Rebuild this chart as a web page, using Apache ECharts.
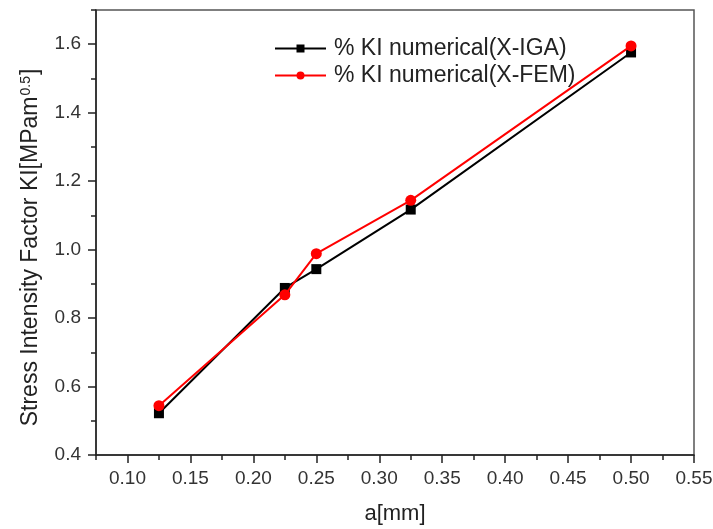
<!DOCTYPE html>
<html>
<head>
<meta charset="utf-8">
<script src="https://cdn.jsdelivr.net/npm/echarts@6/dist/echarts.min.js"></script>
<style>
  html, body { margin: 0; padding: 0; background: #fff; }
  #chart { width: 713px; height: 529px; }
</style>
</head>
<body>
<div id="chart"></div>
<script>
// Crack length a (mm)
const crackLength = [0.125, 0.225, 0.25, 0.325, 0.5];
// Stress intensity factor KI from the two methods
const kiXIGA = [0.522, 0.888, 0.943, 1.117, 1.576];
const kiXFEM = [0.544, 0.868, 0.988, 1.144, 1.595];

const seriesNames = ['% KI numerical(X-IGA)', '% KI numerical(X-FEM)'];

// Tick positions
const xMajorTicks = [0.10, 0.15, 0.20, 0.25, 0.30, 0.35, 0.40, 0.45, 0.50, 0.55];
const xMinorTicks = [0.075, 0.125, 0.175, 0.225, 0.275, 0.325, 0.375, 0.425, 0.475, 0.525];
const yMajorTicks = [0.4, 0.6, 0.8, 1.0, 1.2, 1.4, 1.6];
const yMinorTicks = [0.5, 0.7, 0.9, 1.1, 1.3, 1.5, 1.7];

const FONT = 'Liberation Sans, Arial, sans-serif';
const AXIS_COLOR = '#222';

const pairs = (xs, ys) => xs.map((x, i) => [x, ys[i]]);

const chart = echarts.init(document.getElementById('chart'), null, { renderer: 'canvas' });

chart.setOption({
  animation: false,
  backgroundColor: '#fff',
  textStyle: { fontFamily: FONT },
  grid: {
    left: 96, right: 19, top: 10, bottom: 74,
    outerBoundsMode: 'none',
    containLabel: false,
    show: true,
    borderColor: '#555',
    borderWidth: 1.5,
    backgroundColor: 'transparent'
  },
  legend: {
    orient: 'vertical',
    left: 274,
    top: 37,
    padding: 0,
    itemWidth: 51,
    itemHeight: 10,
    itemGap: 4,
    data: seriesNames,
    textStyle: { fontSize: 23, color: '#222', fontFamily: FONT, padding: [0, 0, 0, 3] }
  },
  xAxis: [
    {
      type: 'value',
      min: 0.075, max: 0.55,
      position: 'bottom',
      name: 'a[mm]',
      nameLocation: 'middle',
      nameGap: 48,
      nameTextStyle: { fontSize: 22, color: '#222', fontFamily: FONT },
      axisLine: { show: true, lineStyle: { color: AXIS_COLOR, width: 1.5 } },
      axisTick: { show: true, inside: false, length: 8, customValues: xMajorTicks,
                  lineStyle: { color: AXIS_COLOR, width: 1.5 } },
      axisLabel: { customValues: xMajorTicks, margin: 14, fontSize: 19, color: '#333',
                   fontFamily: FONT, formatter: v => v.toFixed(2) },
      splitLine: { show: false }
    },
    {
      type: 'value',
      min: 0.075, max: 0.55,
      position: 'bottom',
      axisLine: { show: false },
      axisTick: { show: true, inside: false, length: 5, customValues: xMinorTicks,
                  lineStyle: { color: AXIS_COLOR, width: 1.5 } },
      axisLabel: { show: false },
      splitLine: { show: false }
    }
  ],
  yAxis: [
    {
      type: 'value',
      min: 0.4, max: 1.7,
      position: 'left',
      name: 'Stress Intensity Factor KI[MPam{sup|0.5}]',
      nameLocation: 'middle',
      nameGap: 54,
      nameTextStyle: {
        fontSize: 23, color: '#222', fontFamily: FONT,
        padding: [0, 30, 0, 0],
        rich: {
          sup: { fontSize: 14, color: '#222', fontFamily: FONT, verticalAlign: 'top', padding: [0, 1, 0, 1] }
        }
      },
      axisLine: { show: true, lineStyle: { color: AXIS_COLOR, width: 1.5 } },
      axisTick: { show: true, inside: false, length: 8, customValues: yMajorTicks,
                  lineStyle: { color: AXIS_COLOR, width: 1.5 } },
      axisLabel: { customValues: yMajorTicks, margin: 15, fontSize: 19, color: '#333',
                   fontFamily: FONT, formatter: v => v.toFixed(1) },
      splitLine: { show: false }
    },
    {
      type: 'value',
      min: 0.4, max: 1.7,
      position: 'left',
      axisLine: { show: false },
      axisTick: { show: true, inside: false, length: 5, customValues: yMinorTicks,
                  lineStyle: { color: AXIS_COLOR, width: 1.5 } },
      axisLabel: { show: false },
      splitLine: { show: false }
    }
  ],
  series: [
    {
      name: seriesNames[0],
      type: 'line',
      xAxisIndex: 0, yAxisIndex: 0,
      data: pairs(crackLength, kiXIGA),
      symbol: 'rect',
      symbolSize: 10,
      itemStyle: { color: '#000' },
      lineStyle: { color: '#000', width: 2 },
      z: 2
    },
    {
      name: seriesNames[1],
      type: 'line',
      xAxisIndex: 0, yAxisIndex: 0,
      data: pairs(crackLength, kiXFEM),
      symbol: 'circle',
      symbolSize: 11,
      itemStyle: { color: '#ff0000' },
      lineStyle: { color: '#ff0000', width: 2 },
      z: 3
    }
  ]
});
</script>
</body>
</html>
